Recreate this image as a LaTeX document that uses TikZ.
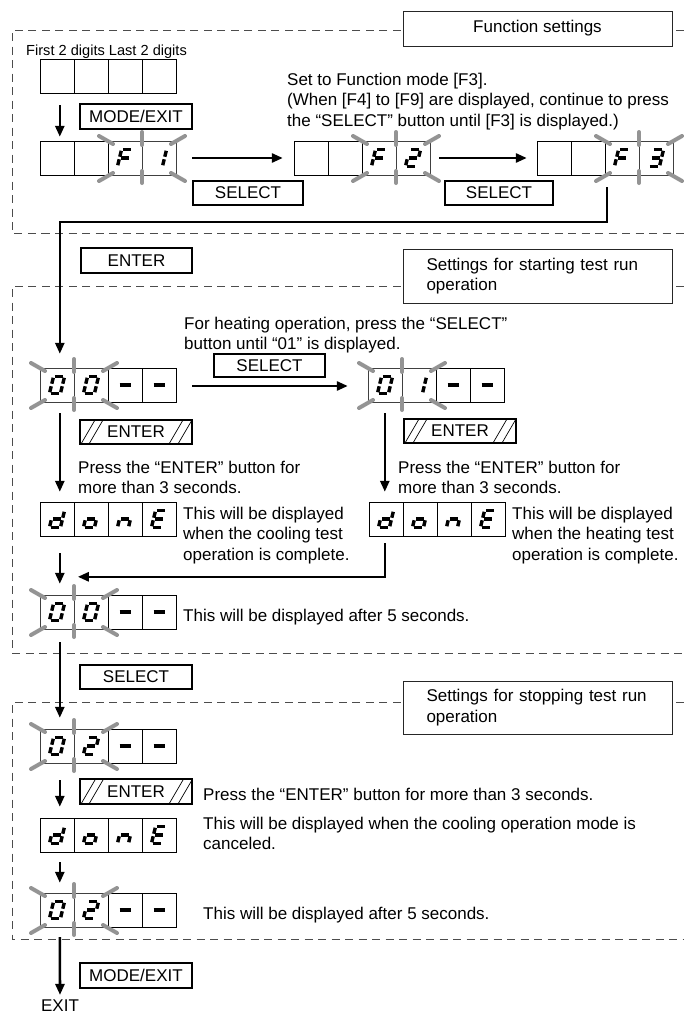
\documentclass[tikz,border=0pt]{standalone}
\usepackage{fontspec}
\setmainfont{Liberation Sans}
\usetikzlibrary{arrows.meta,calc}

\tikzset{
  fnt/.style={font=\fontsize{17}{20.5}\selectfont},
  btn/.style={draw=black, line width=2pt, fill=white, minimum width=112pt, minimum height=24pt, inner sep=0pt, fnt},
  hbtn/.style={btn, path picture={\draw[line width=0.7pt]
      ($(path picture bounding box.south west)+(1,0)$) -- +(14,-24)
      ($(path picture bounding box.south west)+(9,0)$) -- +(14,-24)
      ($(path picture bounding box.south east)+(-23,0)$) -- +(14,-24)
      ($(path picture bounding box.south east)+(-14,0)$) -- +(14,-24);}},
  ttlbox/.style={draw=black!85, line width=0.9pt, fill=white, minimum width=269pt, inner sep=0pt, fnt},
  dashframe/.style={draw=black!70, line width=0.9pt, dash pattern=on 8pt off 5.5pt},
  flow/.style={line width=2.6pt, -{Triangle[length=11pt,width=9pt]}},
  dispbox/.style={minimum width=136pt, minimum height=34pt, inner sep=0pt, draw=none},
  cellline/.style={line width=1pt, draw=black},
  fcell/.style={line width=0.8pt, draw=black!75},
  rayln/.style={line width=4pt, draw=black!42, line cap=round},
  segline/.style={line width=3.4pt, line cap=butt},
  txt/.style={fnt, inner sep=0pt, align=left, anchor=north west},
  sga/.style={insert path={(-2.16,-8.5) -- (6.24,-8.5)}},
  sgb/.style={insert path={(7.24,-7.24) -- (5.80,-1.26)}},
  sgc/.style={insert path={(5.20,1.26) -- (3.76,7.24)}},
  sgd/.style={insert path={(-6.24,8.5) -- (2.16,8.5)}},
  sge/.style={insert path={(-5.80,1.26) -- (-7.24,7.24)}},
  sgf/.style={insert path={(-3.76,-7.24) -- (-5.20,-1.26)}},
  sgg/.style={insert path={(-4.2,0) -- (4.2,0)}},
  sgh/.style={insert path={(-5.5,0) -- (5.5,0)}},
}

\newcommand\dig[2]{\begin{scope}[shift={(#1,0)}]\foreach \s in {#2}{\draw[segline,sg\s];}\end{scope}}
\newcommand\blankpair[1]{\draw[cellline] (#1,-17) rectangle ++(68,34); \draw[cellline] (#1+34,-17) -- ++(0,34);}
\newcommand\flashpair[1]{\draw[fcell] (#1,-17) rectangle ++(68,34); \draw[fcell] (#1+34,-17) -- ++(0,34);}
\newcommand\rays[1]{%
  \draw[rayln] (#1-9,-22) -- (#1+5,-14);
  \draw[rayln] (#1+77,-22) -- (#1+63,-14);
  \draw[rayln] (#1-9,23) -- (#1+5,15);
  \draw[rayln] (#1+77,23) -- (#1+63,15);
  \draw[rayln] (#1+34,-26) -- (#1+34,-13);
  \draw[rayln] (#1+34,13) -- (#1+34,25);}
\newcommand\disp[3]{\node[dispbox] (#1) at (#2) {};\begin{scope}[shift={(#2)}]#3\end{scope}}

\begin{document}
\begin{tikzpicture}[x=1pt,y=-1pt]
\useasboundingbox (0,0) rectangle (684,1015);

% section frames
\draw[dashframe] (684,30) -- (12,30) -- (12,233) -- (684,233);
\draw[dashframe] (684,286) -- (12,286) -- (12,653) -- (684,653);
\draw[dashframe] (684,702) -- (12,702) -- (12,939) -- (684,939);

% titles
\node[ttlbox, minimum height=35pt] (t1) at (537.5,28.5) {Function settings};
\node[ttlbox, minimum height=54pt, text width=222pt, inner xsep=23.5pt, align=left] (t2) at (537.5,276) {Settings for starting test run\\operation};
\node[ttlbox, minimum height=53pt, text width=222pt, inner xsep=23.5pt, align=left] (t3) at (537.5,707.5) {Settings for stopping test run\\operation};

% texts
\node[txt, font=\fontsize{14.6}{17}\selectfont] (lbl) at (26,44.6) {First 2 digits Last 2 digits};
\node[txt] (n1) at (287,72.5) {Set to Function mode [F3].\\(When [F4] to [F9] are displayed, continue to press\\the “SELECT” button until [F3] is displayed.)};
\node[txt] (n2) at (184,316.5) {For heating operation, press the “SELECT”\\button until “01” is displayed.};
\node[txt] (n3) at (78,460.5) {Press the “ENTER” button for\\more than 3 seconds.};
\node[txt] (n4) at (398,460.5) {Press the “ENTER” button for\\more than 3 seconds.};
\node[txt] (n5) at (183,506.5) {This will be displayed\\when the cooling test\\operation is complete.};
\node[txt] (n6) at (512,506.5) {This will be displayed\\when the heating test\\operation is complete.};
\node[txt] (n7) at (183,608.7) {This will be displayed after 5 seconds.};
\node[txt] (n8) at (203,787.7) {Press the “ENTER” button for more than 3 seconds.};
\node[txt] (n9) at (203,816.7) {This will be displayed when the cooling operation mode is\\canceled.};
\node[txt] (n10) at (203,906.7) {This will be displayed after 5 seconds.};
\node[fnt, inner sep=0pt] (exit) at (60,1006) {EXIT};

% displays
\disp{d0}{108,76}{\blankpair{-68}\blankpair{0}}
\disp{dF1}{108,158}{\flashpair{0}\blankpair{-68}\rays{0}\dig{17}{a,f,g,e}\dig{51}{b,c}}
\disp{dF2}{362,158}{\flashpair{0}\blankpair{-68}\rays{0}\dig{17}{a,f,g,e}\dig{51}{a,b,g,e,d}}
\disp{dF3}{605,158}{\flashpair{0}\blankpair{-68}\rays{0}\dig{17}{a,f,g,e}\dig{51}{a,b,g,c,d}}
\disp{d00}{108,385}{\flashpair{-68}\blankpair{0}\rays{-68}\dig{-51}{a,b,c,d,e,f}\dig{-17}{a,b,c,d,e,f}\dig{17}{h}\dig{51}{h}}
\disp{d01}{436,385}{\flashpair{-68}\blankpair{0}\rays{-68}\dig{-51}{a,b,c,d,e,f}\dig{-17}{b,c}\dig{17}{h}\dig{51}{h}}
\disp{done1}{108,519}{\blankpair{-68}\blankpair{0}\dig{-51}{b,c,d,e,g}\dig{-17}{c,d,e,g}\dig{17}{c,e,g}\dig{51}{a,d,e,f,g}}
\disp{done2}{437,519}{\blankpair{-68}\blankpair{0}\dig{-51}{b,c,d,e,g}\dig{-17}{c,d,e,g}\dig{17}{c,e,g}\dig{51}{a,d,e,f,g}}
\disp{d00b}{108,612}{\flashpair{-68}\blankpair{0}\rays{-68}\dig{-51}{a,b,c,d,e,f}\dig{-17}{a,b,c,d,e,f}\dig{17}{h}\dig{51}{h}}
\disp{d02}{108,746}{\flashpair{-68}\blankpair{0}\rays{-68}\dig{-51}{a,b,c,d,e,f}\dig{-17}{a,b,g,e,d}\dig{17}{h}\dig{51}{h}}
\disp{done3}{108,835}{\blankpair{-68}\blankpair{0}\dig{-51}{b,c,d,e,g}\dig{-17}{c,d,e,g}\dig{17}{c,e,g}\dig{51}{a,d,e,f,g}}
\disp{d02b}{108,910}{\flashpair{-68}\blankpair{0}\rays{-68}\dig{-51}{a,b,c,d,e,f}\dig{-17}{a,b,g,e,d}\dig{17}{h}\dig{51}{h}}

% connectors
\draw[flow] ($(d0.south west)+(20,12)$) -- ($(dF1.north west)+(20,-4)$);
\draw[flow] ($(dF1.east)+(16,0)$) -- ($(dF2.west)+(-11,0)$);
\draw[flow] ($(dF2.east)+(9,0)$) -- ($(dF3.west)+(-10,0)$);
\draw[flow] ($(dF3.south)+(2,12)$) |- ($(d00.north west)+(20,-146)$) -- ($(d00.north west)+(20,-14)$);
\draw[flow] ($(d00.east)+(16,1)$) -- ($(d01.west)+(-20,1)$);
\draw[flow] ($(d00.south west)+(20,11)$) -- ($(done1.north west)+(20,-10)$);
\draw[flow] ($(d01.south west)+(17,11)$) -- ($(done2.north west)+(16,-10)$);
\draw[flow] ($(done2.south west)+(16,7)$) |- ($(d00b.north west)+(38,-18)$);
\draw[flow] ($(done1.south west)+(20,17)$) -- ($(d00b.north west)+(20,-11)$);
\draw[flow] ($(d00b.south west)+(20,13)$) -- ($(d02.north west)+(20,-11)$);
\draw[flow] ($(d02.south west)+(20,17)$) -- ($(done3.north west)+(20,-11)$);
\draw[flow] ($(done3.south west)+(20,10)$) -- ($(d02b.north west)+(20,-10)$);
\draw[flow] ($(d02b.south west)+(20,10)$) -- ($(exit.north)+(0,-5)$);

% buttons
\node[btn, minimum height=25pt] (b1) at (136,116.5) {MODE/EXIT};
\node[btn, minimum width=110pt] (s1) at (248,193) {SELECT};
\node[btn, minimum width=108pt] (s2) at (499,193) {SELECT};
\node[btn, minimum width=111pt, minimum height=25pt] (en0) at (136.5,260.5) {ENTER};
\node[btn, minimum width=111pt, minimum height=23pt] (s3) at (269.5,365.5) {SELECT};
\node[hbtn] (e1) at (136,432) {ENTER};
\node[hbtn] (e2) at (460,431) {ENTER};
\node[btn] (s4) at (136,677) {SELECT};
\node[hbtn, minimum height=25pt] (e3) at (136,791.5) {ENTER};
\node[btn, minimum height=25pt] (b2) at (136,975.5) {MODE/EXIT};
\end{tikzpicture}
\end{document}
